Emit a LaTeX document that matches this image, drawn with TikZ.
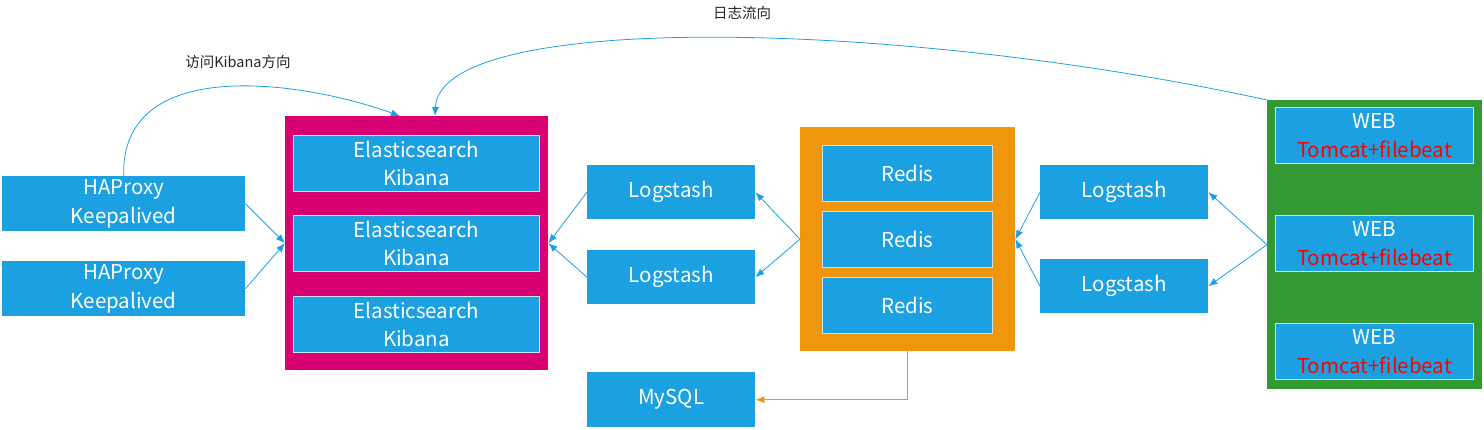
\documentclass[tikz,border=0pt]{standalone}
\usepackage{fontspec}
\setmainfont{Noto Sans CJK SC}
\usetikzlibrary{arrows.meta}
\definecolor{bl}{HTML}{1BA1E2}
\definecolor{pk}{HTML}{D80073}
\definecolor{og}{HTML}{F0960A}
\definecolor{gr}{HTML}{339933}
\definecolor{bd}{HTML}{C8E6F5}
\tikzset{
  box/.style={fill=bl, text=white, inner sep=0pt, align=center, font=\fontsize{20.5}{28.5}\selectfont, anchor=north west},
  inbox/.style={box, draw=bd, line width=0.9pt},
  cont/.style={inner sep=0pt, anchor=north west},
  conn/.style={draw=bl, line width=0.8pt, -{Latex[length=9pt,width=7pt]}},
  lbl/.style={font=\fontsize{14.5}{16}\selectfont, text=black!85}
}
\begin{document}
\begin{tikzpicture}[x=1pt,y=-1pt]
\useasboundingbox (0,0) rectangle (1484,429);
% containers
\node[cont, fill=pk, minimum width=263pt, minimum height=254pt] (pink) at (285,116) {};
\node[cont, fill=og, minimum width=215pt, minimum height=224pt] (orange) at (800,127) {};
\node[cont, fill=gr, minimum width=215pt, minimum height=289pt] (green) at (1267,100) {};
% HAProxy
\node[box, minimum width=243pt, minimum height=55pt] (hap1) at (2,176) {HAProxy\\Keepalived};
\node[box, minimum width=243pt, minimum height=55pt] (hap2) at (2,261) {HAProxy\\Keepalived};
% ES
\node[inbox, minimum width=246pt, minimum height=56pt] (es1) at (293,135) {Elasticsearch\\Kibana};
\node[inbox, minimum width=246pt, minimum height=56pt] (es2) at (293,215) {Elasticsearch\\Kibana};
\node[inbox, minimum width=246pt, minimum height=56pt] (es3) at (293,296) {Elasticsearch\\Kibana};
% Logstash left
\node[box, minimum width=168pt, minimum height=54pt] (ls1) at (587,165) {Logstash};
\node[box, minimum width=168pt, minimum height=54pt] (ls2) at (587,250) {Logstash};
\node[box, minimum width=168pt, minimum height=55pt] (mysql) at (587,372) {MySQL};
% Redis
\node[inbox, minimum width=170pt, minimum height=56pt] (r1) at (822,145) {Redis};
\node[inbox, minimum width=170pt, minimum height=56pt] (r2) at (822,211) {Redis};
\node[inbox, minimum width=170pt, minimum height=56pt] (r3) at (822,277) {Redis};
% Logstash right
\node[box, minimum width=168pt, minimum height=54pt] (ls3) at (1040,165) {Logstash};
\node[box, minimum width=168pt, minimum height=54pt] (ls4) at (1040,259) {Logstash};
% WEB
\node[inbox, minimum width=198pt, minimum height=56pt] (w1) at (1275,107) {WEB\\\textcolor{red}{Tomcat+filebeat}};
\node[inbox, minimum width=198pt, minimum height=56pt] (w2) at (1275,215) {WEB\\\textcolor{red}{Tomcat+filebeat}};
\node[inbox, minimum width=198pt, minimum height=56pt] (w3) at (1275,323) {WEB\\\textcolor{red}{Tomcat+filebeat}};
% labels
\node[lbl] (l1) at (238,62) {访问Kibana方向};
\node[lbl] (l2) at (742,13) {日志流向};
% connectors
\coordinate (pinkL) at (pink.west);
\draw[conn] (hap1.east) -- (pinkL);
\draw[conn] (hap2.east) -- (pinkL);
\draw[conn] (ls1.west) -- (pink.east);
\draw[conn] (ls2.west) -- (pink.east);
\draw[conn] (orange.west) -- (ls1.east);
\draw[conn] (orange.west) -- (ls2.east);
\draw[conn] (ls3.west) -- (orange.east);
\draw[conn] (ls4.west) -- (orange.east);
\draw[conn] (green.west) -- (ls3.east);
\draw[conn] (green.west) -- (ls4.east);
\draw[conn, draw=og] (orange.south) |- (mysql.east);
\coordinate (pt1) at (400,116);
\coordinate (pt2) at (435,116);
\draw[conn] (hap1.north) .. controls (120,55) and (300,80) .. (pt1);
\draw[conn] (green.north west) .. controls (900,20) and (440,10) .. (pt2);
\end{tikzpicture}
\end{document}
